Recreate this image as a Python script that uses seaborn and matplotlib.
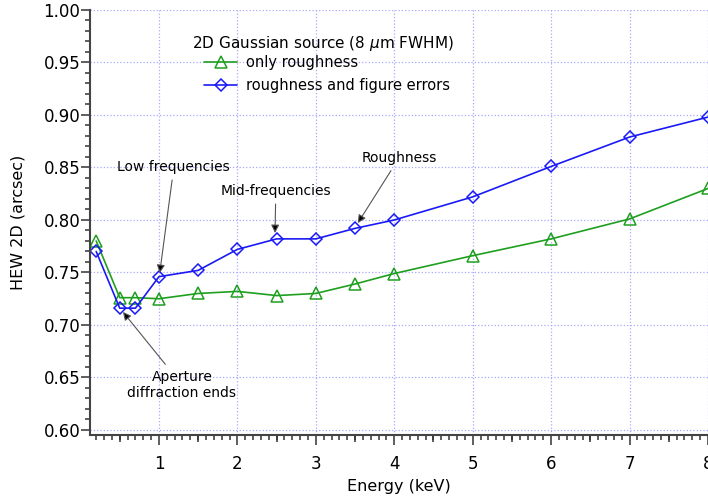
import numpy as np
import pandas as pd
import matplotlib
matplotlib.use("Agg")
import matplotlib.pyplot as plt
from matplotlib.ticker import MultipleLocator, FixedLocator, NullFormatter, FormatStrFormatter
import seaborn as sns

# HEW vs photon energy for a 2D Gaussian source
energy = [0.2, 0.5, 0.7, 1.0, 1.5, 2.0, 2.5, 3.0, 3.5, 4.0, 5.0, 6.0, 7.0, 8.0]
hew_roughness = [0.780, 0.726, 0.726, 0.725, 0.730, 0.732, 0.728, 0.730, 0.739,
                 0.749, 0.766, 0.782, 0.801, 0.830]
hew_rough_figure = [0.770, 0.716, 0.716, 0.746, 0.752, 0.772, 0.782, 0.782, 0.792,
                    0.800, 0.822, 0.851, 0.879, 0.898]

series_labels = ["only roughness", "roughness and figure errors"]
legend_title = "2D Gaussian source (8 $\\mu$m FWHM)"
x_ticks = [1, 2, 3, 4, 5, 6, 7, 8]
y_ticks = [0.60, 0.65, 0.70, 0.75, 0.80, 0.85, 0.90, 0.95, 1.00]

GREEN = "#1f9f1f"
BLUE = "#1a1af5"
AXIS = "#333333"

sns.set_theme(style="ticks")
plt.rcParams["font.family"] = ["DejaVu Sans"]
plt.rcParams["mathtext.fontset"] = "dejavusans"

fig = plt.figure(figsize=(7.08, 4.97), dpi=100)
ax = fig.add_axes([90 / 708, 1 - 435 / 497, 618 / 708, 425 / 497])

df = pd.DataFrame({"energy": energy,
                   "rough": hew_roughness,
                   "rough_fig": hew_rough_figure})

sns.lineplot(data=df, x="energy", y="rough", ax=ax, color=GREEN, lw=1.2,
             marker="^", ms=8, mfc="none", mec=GREEN, mew=1.1,
             label=series_labels[0])
sns.lineplot(data=df, x="energy", y="rough_fig", ax=ax, color=BLUE, lw=1.2,
             marker="D", ms=6.2, mfc="none", mec=BLUE, mew=1.1,
             label=series_labels[1])

ax.set_xlim(0.121, 8.0)
ax.set_ylim(0.5952, 1.0)

ax.xaxis.set_major_locator(FixedLocator(x_ticks))
ax.xaxis.set_minor_locator(MultipleLocator(0.1))
ax.yaxis.set_major_locator(FixedLocator(y_ticks))
ax.yaxis.set_minor_locator(MultipleLocator(0.01))
ax.yaxis.set_major_formatter(FormatStrFormatter("%.2f"))

ax.tick_params(axis="x", which="major", direction="out", length=7.2,
               width=1.1, color=AXIS, labelsize=12, labelcolor="black", pad=7)
ax.tick_params(axis="y", which="major", direction="out", length=6.5,
               width=1.1, color=AXIS, labelsize=12, labelcolor="black", pad=0.5)
ax.tick_params(axis="both", which="minor", direction="out", length=3.6,
               width=1.1, color=AXIS)

# medium ticks at the half-keV positions
sec = ax.secondary_xaxis("bottom")
sec.xaxis.set_major_locator(FixedLocator(np.arange(0.5, 8.0, 1.0)))
sec.xaxis.set_major_formatter(NullFormatter())
sec.xaxis.set_minor_locator(FixedLocator([]))
sec.tick_params(axis="x", which="major", direction="out", length=5.2,
                width=1.1, color=AXIS)
sec.spines["bottom"].set_visible(False)

ax.grid(True, which="major", color="#a8a8ff", linestyle=":", linewidth=0.9)

for side in ("top", "right"):
    ax.spines[side].set_visible(False)
for side in ("left", "bottom"):
    ax.spines[side].set_color("#444444")
    ax.spines[side].set_linewidth(1.5)

ax.set_xlabel("Energy (keV)", fontsize=11.5, color="black", labelpad=4.5)
ax.set_ylabel("HEW 2D (arcsec)", fontsize=11.5, color="black")
ax.yaxis.set_label_coords(-0.104, 0.5)

leg = ax.legend(loc="upper left", bbox_to_anchor=(0.1845, 0.893),
                frameon=False, fontsize=10.5, borderpad=0.0,
                handlelength=2.26, handletextpad=0.6, labelspacing=0.5,
                borderaxespad=0.0)
for t in leg.get_texts():
    t.set_color("black")
ax.text(0.165, 0.922, legend_title, transform=ax.transAxes,
        ha="left", va="center", fontsize=11, color="black")

arrow_kw = dict(arrowstyle="-|>", color="#555555", lw=0.8,
                mutation_scale=12, shrinkA=2, shrinkB=0)

def note(text, xy, xytext):
    ax.annotate(text, xy=xy, xytext=xytext, textcoords="data",
                ha="center", va="center", fontsize=10, color="black",
                arrowprops=dict(arrow_kw, fc="black"))

note("Low frequencies", (1.01, 0.7495), (1.19, 0.8505))
note("Mid-frequencies", (2.48, 0.7876), (2.49, 0.8276))
note("Roughness", (3.535, 0.797), (4.06, 0.859))
note("Aperture\ndiffraction ends", (0.541, 0.7124), (1.293, 0.643))

fig.savefig("out.png", dpi=100)
